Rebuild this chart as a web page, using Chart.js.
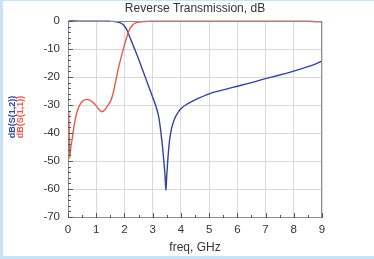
<!DOCTYPE html>
<html>
<head>
<meta charset="utf-8">
<script src="https://cdn.jsdelivr.net/npm/chart.js@4/dist/chart.umd.min.js"></script>
<style>
html,body{margin:0;padding:0;background:#fff;}
canvas{display:block;}
</style>
</head>
<body>
<canvas id="c" width="374" height="259"></canvas>
<script>
// ---- data ----
const chartTitle = "Reverse Transmission, dB";
const xTitle = "freq, GHz";
const s12Label = "dB(S(1,2))";
const s11Label = "dB(S(1,1))";
const freq = [0.03, 0.06, 0.1, 0.15, 0.2, 0.27, 0.35, 0.45, 0.55, 0.68,
  0.8, 0.9, 1.0, 1.1, 1.2, 1.3, 1.4, 1.5, 1.6, 1.7,
  1.8, 1.9, 2.0, 2.1, 2.2, 2.3, 2.4, 2.5, 2.6, 2.7,
  2.8, 2.9, 3.0, 3.1, 3.2, 3.25, 3.3, 3.35, 3.4, 3.44,
  3.47, 3.5, 3.53, 3.56, 3.6, 3.65, 3.7, 3.8, 3.9, 4.0,
  4.25, 4.5, 5.0, 5.5, 6.0, 6.5, 7.0, 7.5, 8.0, 8.5,
  8.8, 9.0];
const s12 = [0, 0, 0, 0, 0, -0.02, -0.03, -0.04, -0.05, -0.06,
  -0.07, -0.08, -0.1, -0.1, -0.1, -0.1, -0.1, -0.12, -0.15, -0.25,
  -0.45, -0.9, -1.8, -3.5, -6, -8.5, -11, -13.6, -16.3, -19,
  -21.8, -24.5, -27.2, -30, -33.5, -36.5, -40.5, -45, -50.5, -55.5,
  -60.5, -55, -50.5, -46.5, -42.5, -39.3, -37.2, -34.4, -32.6, -31.3,
  -29.5, -28.2, -26, -24.6, -23.3, -22, -20.6, -19.3, -17.9, -16.3,
  -15.2, -14.3];
const s11 = [-32, -49, -45, -42, -38.5, -34.5, -31.5, -29.4, -28.4, -28,
  -28.4, -29.2, -30.3, -31.6, -32.4, -31.8, -30.3, -28.8, -25.8, -21,
  -16.3, -12.3, -8.6, -5.2, -2.6, -1.3, -0.7, -0.45, -0.3, -0.2,
  -0.15, -0.1, -0.1, -0.1, -0.1, -0.1, -0.1, -0.1, -0.1, -0.1,
  -0.1, -0.1, -0.1, -0.1, -0.1, -0.1, -0.1, -0.1, -0.1, -0.1,
  -0.1, -0.1, -0.1, -0.1, -0.1, -0.1, -0.1, -0.1, -0.1, -0.1,
  -0.25, -0.35];
const xMin = 0, xMax = 9, xStep = 0.5, xMajor = 1;
const yMin = -70, yMax = 0, yStep = 2, yMajor = 10;

const BLUE = '#34449a';
const RED = '#e65a4c';
const FONT = '"Liberation Sans", Arial, sans-serif';

const isMajor = (v, m) => Math.abs(v % m) < 1e-9;

const frame = {
  id: 'frame',
  beforeDraw(chart) {
    const c = chart.ctx;
    c.save();
    c.fillStyle = '#ffffff';
    c.fillRect(0, 0, chart.width, chart.height);
    c.fillStyle = '#c6e3f7';
    c.fillRect(0, 0, 3, chart.height);
    c.fillRect(0, 0, chart.width, 1);
    c.fillRect(0, chart.height - 3, chart.width, 3);
    c.restore();
  },
  afterDraw(chart) {
    const c = chart.ctx, a = chart.chartArea;
    const xs = chart.scales.x, ys = chart.scales.y;
    c.save();
    c.strokeStyle = '#8c8c8c';
    c.lineWidth = 1;
    c.strokeRect(Math.round(a.left) + 0.5, Math.round(a.top) + 0.5,
      Math.round(a.right - a.left) - 1, Math.round(a.bottom - a.top));
    c.strokeStyle = '#555';
    c.beginPath();
    for (let v = yMin; v <= yMax + 1e-9; v += yStep) {
      const p = Math.round(ys.getPixelForValue(v)) + 0.5;
      const len = isMajor(v, yMajor) ? 5 : 3;
      c.moveTo(a.left, p); c.lineTo(a.left + len, p);
    }
    for (let v = xMin; v <= xMax + 1e-9; v += xStep) {
      const p = Math.round(xs.getPixelForValue(v)) + 0.5;
      const len = isMajor(v, xMajor) ? 5 : 3;
      c.moveTo(p, a.bottom + 1); c.lineTo(p, a.bottom + 1 - len);
    }
    c.stroke();
    c.fillStyle = '#333';
    c.font = '12px ' + FONT;
    c.textAlign = 'center';
    c.textBaseline = 'middle';
    c.fillText(chartTitle, (a.left + a.right) / 2, 9);
    const cy = (a.top + a.bottom) / 2 - 2;
    c.font = 'bold 9px ' + FONT;
    c.translate(12.5, cy);
    c.rotate(-Math.PI / 2);
    c.fillStyle = BLUE;
    c.fillText(s12Label, 0, 0);
    c.fillStyle = RED;
    c.fillText(s11Label, 0, 8.5);
    c.restore();
  }
};

new Chart(document.getElementById('c'), {
  type: 'scatter',
  data: {
    datasets: [
      { label: s11Label, data: freq.map((f, i) => ({ x: f, y: s11[i] })),
        showLine: true, borderColor: RED, borderWidth: 1.4, pointRadius: 0,
        cubicInterpolationMode: 'monotone', clip: 3 },
      { label: s12Label, data: freq.map((f, i) => ({ x: f, y: s12[i] })),
        showLine: true, borderColor: BLUE, borderWidth: 1.4, pointRadius: 0,
        cubicInterpolationMode: 'monotone', clip: 3 }
    ]
  },
  options: {
    responsive: false,
    animation: false,
    devicePixelRatio: 1,
    layout: { padding: { left: 0, right: 52, top: 21, bottom: 0 } },
    plugins: { legend: { display: false }, tooltip: { enabled: false }, title: { display: false } },
    scales: {
      x: {
        type: 'linear', min: xMin, max: xMax,
        afterFit(s) { s.height = 42; },
        border: { display: false },
        grid: {
          drawTicks: false,
          color: ctx => (ctx.tick && isMajor(ctx.tick.value, xMajor)) ? '#dadada' : 'rgba(0,0,0,0)'
        },
        ticks: {
          stepSize: xStep, autoSkip: false, maxRotation: 0, padding: 6,
          color: '#333', font: { family: FONT, size: 11.5 },
          callback: v => isMajor(v, xMajor) ? String(v) : ''
        },
        title: { display: true, text: xTitle, color: '#333',
          font: { family: FONT, size: 12 }, padding: { top: 0, bottom: 4 } }
      },
      y: {
        type: 'linear', min: yMin, max: yMax,
        afterFit(s) { s.width = 68; },
        border: { display: false },
        grid: {
          drawTicks: false,
          color: ctx => (ctx.tick && isMajor(ctx.tick.value, yMajor)) ? '#dadada' : 'rgba(0,0,0,0)'
        },
        ticks: {
          stepSize: yStep, autoSkip: false, padding: 8,
          color: '#333', font: { family: FONT, size: 11.5 },
          callback: v => isMajor(v, yMajor) ? String(v) : ''
        }
      }
    }
  },
  plugins: [frame]
});
</script>
</body>
</html>
